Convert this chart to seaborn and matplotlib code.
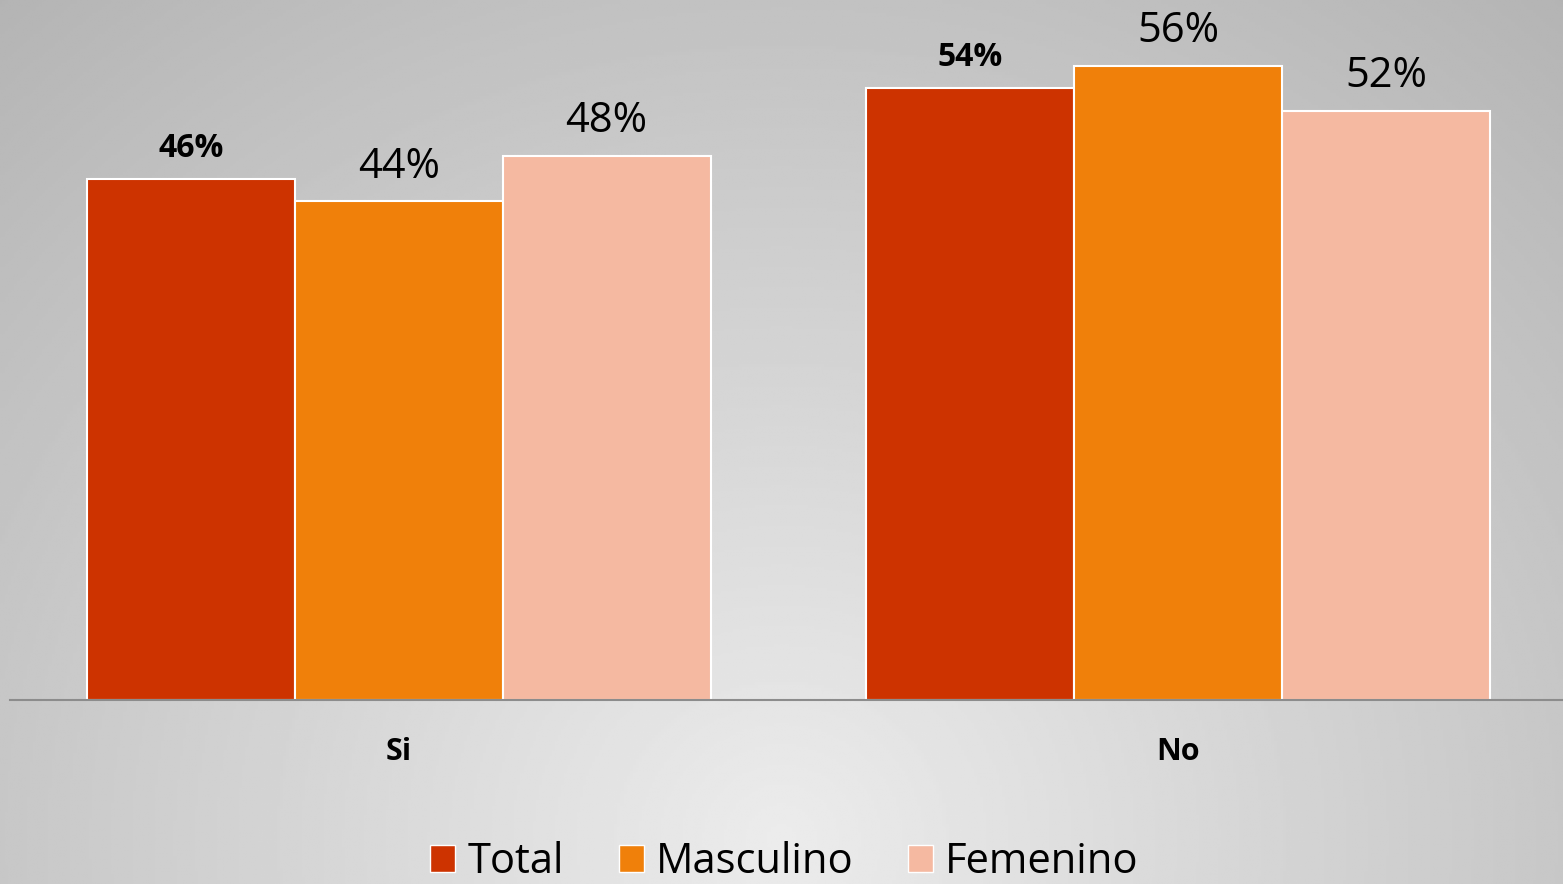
import numpy as np
import pandas as pd
import matplotlib
matplotlib.use("Agg")
import matplotlib.pyplot as plt
import seaborn as sns

categories = ["Si", "No"]
series = ["Total", "Masculino", "Femenino"]
total_vals = [46, 54]
masc_vals = [44, 56]
fem_vals = [48, 52]
colors = ["#cd3300", "#f0800a", "#f5b9a1"]

rows = []
for s, vals in zip(series, [total_vals, masc_vals, fem_vals]):
    for c, v in zip(categories, vals):
        rows.append({"cat": c, "serie": s, "val": v})
df = pd.DataFrame(rows)

sns.set_theme(style="white")
plt.rcParams["font.family"] = ["Open Sans", "DejaVu Sans"]

W, H = 1563, 884
fig = plt.figure(figsize=(W / 100, H / 100), dpi=100)

# background radial gradient
bg = fig.add_axes([0, 0, 1, 1], zorder=-10)
yy, xx = np.mgrid[0:1:300j, 0:1:500j]
d = np.sqrt(((xx - 0.5) / 0.6) ** 2 + ((yy - 0.95) / 1.0) ** 2)
t = np.clip(d / 1.3, 0, 1)
c0, c1 = 0.925, 0.70
img = c0 + (c1 - c0) * t
bg.imshow(img, cmap="gray", vmin=0, vmax=1, aspect="auto", extent=[0, 1, 1, 0])
bg.set_axis_off()

ax = fig.add_axes([10 / W, (H - 700) / H, (W - 10) / W, 700 / H])
ax.patch.set_alpha(0)
sns.barplot(data=df, x="cat", y="val", hue="serie", palette=colors, width=0.8,
            edgecolor="white", linewidth=1.5, ax=ax, saturation=1)
ax.set_xlim(-0.4987, 1.4936)
ax.set_ylim(0, 700 / 11.33)

handles, labels = ax.get_legend_handles_labels()
if ax.get_legend() is not None:
    ax.get_legend().remove()

for i, cont in enumerate(ax.containers):
    labs = [f"{int(round(b.get_height()))}%" for b in cont]
    if i == 0:
        ax.bar_label(cont, labels=labs, padding=10, fontsize=23, fontweight="bold", color="black")
    else:
        ax.bar_label(cont, labels=labs, padding=10, fontsize=30, color="black")

for sp in ["top", "right", "left"]:
    ax.spines[sp].set_visible(False)
ax.spines["bottom"].set_color("#8c8c8c")
ax.spines["bottom"].set_linewidth(1.5)
ax.set_yticks([])
ax.set_xlabel("")
ax.set_ylabel("")
ax.tick_params(axis="x", length=0, pad=27)
for lab in ax.get_xticklabels():
    lab.set_fontweight("bold")
    lab.set_fontsize(22)
    lab.set_color("black")

leg = fig.legend(handles, labels, loc="center", bbox_to_anchor=(0.502, (H - 862) / H),
                 ncol=3, frameon=False, fontsize=30, handlelength=0.6, handleheight=0.6,
                 handletextpad=0.3, columnspacing=1.3, labelcolor="black")
for p in leg.get_patches():
    p.set_edgecolor("white")
    p.set_linewidth(1.0)

fig.savefig("out.png", dpi=100)
